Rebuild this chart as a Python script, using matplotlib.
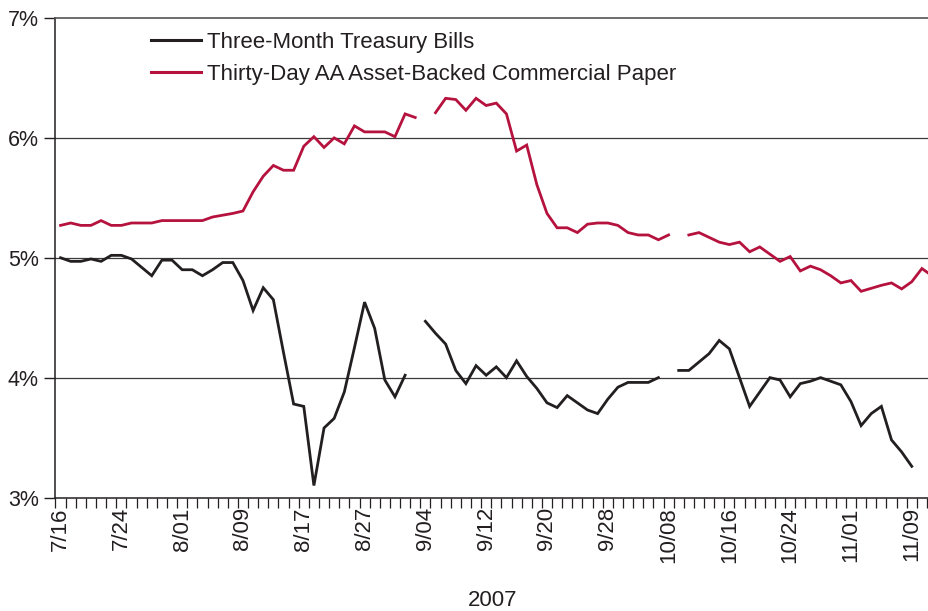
import numpy as np
import matplotlib
matplotlib.use("Agg")
import matplotlib.pyplot as plt
from matplotlib.ticker import FixedLocator, FuncFormatter

plt.rcParams["font.family"] = ["Liberation Sans", "DejaVu Sans"]

# weekday dates, 7/16 to 11/13 2007 (one slot per weekday)
DAYS = [
    "7/16", "7/17", "7/18", "7/19", "7/20", "7/23", "7/24", "7/25", "7/26", "7/27",
    "7/30", "7/31", "8/01", "8/02", "8/03", "8/06", "8/07", "8/08", "8/09", "8/10",
    "8/13", "8/14", "8/15", "8/16", "8/17", "8/20", "8/21", "8/22", "8/23", "8/24",
    "8/27", "8/28", "8/29", "8/30", "8/31", "9/03", "9/04", "9/05", "9/06", "9/07",
    "9/10", "9/11", "9/12", "9/13", "9/14", "9/17", "9/18", "9/19", "9/20", "9/21",
    "9/24", "9/25", "9/26", "9/27", "9/28", "10/01", "10/02", "10/03", "10/04", "10/05",
    "10/08", "10/09", "10/10", "10/11", "10/12", "10/15", "10/16", "10/17", "10/18", "10/19",
    "10/22", "10/23", "10/24", "10/25", "10/26", "10/29", "10/30", "10/31", "11/01", "11/02",
    "11/05", "11/06", "11/07", "11/08", "11/09", "11/12", "11/13",
]
LABEL_EVERY = 6

nan = np.nan
# Three-month Treasury bill yield, percent
TBILL = [
    5.00, 4.97, 4.97, 4.99, 4.97, 5.02, 5.02, 4.99, 4.92, 4.85,
    4.98, 4.98, 4.90, 4.90, 4.85, 4.90, 4.96, 4.96, 4.81, 4.56,
    4.75, 4.65, 4.21, 3.78, 3.76, 3.10, 3.58, 3.66, 3.88, 4.25,
    4.63, 4.41, 3.98, 3.84, 4.02, nan, 4.47, 4.37, 4.28, 4.06,
    3.95, 4.10, 4.02, 4.09, 4.00, 4.14, 4.01, 3.91, 3.79, 3.75,
    3.85, 3.79, 3.73, 3.70, 3.82, 3.92, 3.96, 3.96, 3.96, 4.00,
    nan, 4.06, 4.06, 4.13, 4.20, 4.31, 4.24, 4.00, 3.76, 3.88,
    4.00, 3.98, 3.84, 3.95, 3.97, 4.00, 3.97, 3.94, 3.80, 3.60,
    3.70, 3.76, 3.48, 3.38, 3.26, nan, nan,
]
# Thirty-day AA asset-backed commercial paper rate, percent
ABCP = [
    5.27, 5.29, 5.27, 5.27, 5.31, 5.27, 5.27, 5.29, 5.29, 5.29,
    5.31, 5.31, 5.31, 5.31, 5.31, 5.34, 5.355, 5.37, 5.39, 5.55,
    5.68, 5.77, 5.73, 5.73, 5.93, 6.01, 5.92, 6.00, 5.95, 6.10,
    6.05, 6.05, 6.05, 6.01, 6.20, 6.17, nan, 6.21, 6.33, 6.32,
    6.23, 6.33, 6.27, 6.29, 6.20, 5.89, 5.94, 5.61, 5.37, 5.25,
    5.25, 5.21, 5.28, 5.29, 5.29, 5.27, 5.21, 5.19, 5.19, 5.15,
    5.19, nan, 5.19, 5.21, 5.17, 5.13, 5.11, 5.13, 5.05, 5.09,
    5.03, 4.97, 5.01, 4.89, 4.93, 4.90, 4.85, 4.79, 4.81, 4.72,
    4.745, 4.77, 4.79, 4.74, 4.80, 4.91, 4.85,
]
SERIES_NAMES = ["Three-Month Treasury Bills", "Thirty-Day AA Asset-Backed Commercial Paper"]
Y_TICKS = [3, 4, 5, 6, 7]
X_TITLE = "2007"

TEXT = "#231f20"
RED = "#b5123e"
BLACK = "#231f20"

fig = plt.figure(figsize=(9.29, 6.11), dpi=100)
ax = fig.add_axes([55.5 / 929, (611 - 497.5) / 611, 1 - 55.5 / 929, (497.5 - 18) / 611])

x = np.arange(len(DAYS))
ax.plot(x, TBILL, color=BLACK, lw=2.0, solid_joinstyle="miter", label=SERIES_NAMES[0])
ax.plot(x, ABCP, color=RED, lw=2.0, solid_joinstyle="miter", label=SERIES_NAMES[1])

ax.set_xlim(-0.5, 85.7)
ax.set_ylim(3, 7)

for v in Y_TICKS[1:-1]:
    ax.axhline(v, color="#3a3a3a", lw=0.9, zorder=0)

ax.spines["right"].set_visible(False)
ax.spines["top"].set_color("#555555")
ax.spines["top"].set_linewidth(1.2)
ax.spines["left"].set_color(BLACK)
ax.spines["left"].set_linewidth(1.1)
ax.spines["bottom"].set_color(BLACK)
ax.spines["bottom"].set_linewidth(1.1)

ax.set_yticks(Y_TICKS)
ax.yaxis.set_major_formatter(FuncFormatter(lambda v, _: f"{v:.0f}%"))
ax.tick_params(axis="y", length=8, width=1.0, pad=4, labelsize=15.5, labelcolor=TEXT, color=BLACK)

# tick marks between the day slots, labels on every sixth day
ax.xaxis.set_minor_locator(FixedLocator(np.arange(-0.5, len(DAYS), 1.0)))
label_pos = list(range(0, len(DAYS), LABEL_EVERY))
ax.set_xticks(label_pos)
ax.set_xticklabels([DAYS[i] for i in label_pos], rotation=90, va="top", ha="center")
ax.tick_params(axis="x", which="major", length=0, pad=7, labelsize=16, labelcolor=TEXT)
ax.tick_params(axis="x", which="minor", length=7, width=0.9, color=BLACK)

fig.text(493 / 929, 1 - 601 / 611, X_TITLE, ha="center", va="center", fontsize=16, color=TEXT)

leg = ax.legend(loc="upper left", bbox_to_anchor=(151 / 929, 1 - 32 / 611), bbox_transform=fig.transFigure,
                frameon=False, fontsize=16, handlelength=2.25, handletextpad=0.28, labelspacing=0.5,
                borderaxespad=0, borderpad=0)
for t in leg.get_texts():
    t.set_color(TEXT)
for h in leg.get_lines():
    h.set_linewidth(2.2)

fig.savefig("out.png", dpi=100)
